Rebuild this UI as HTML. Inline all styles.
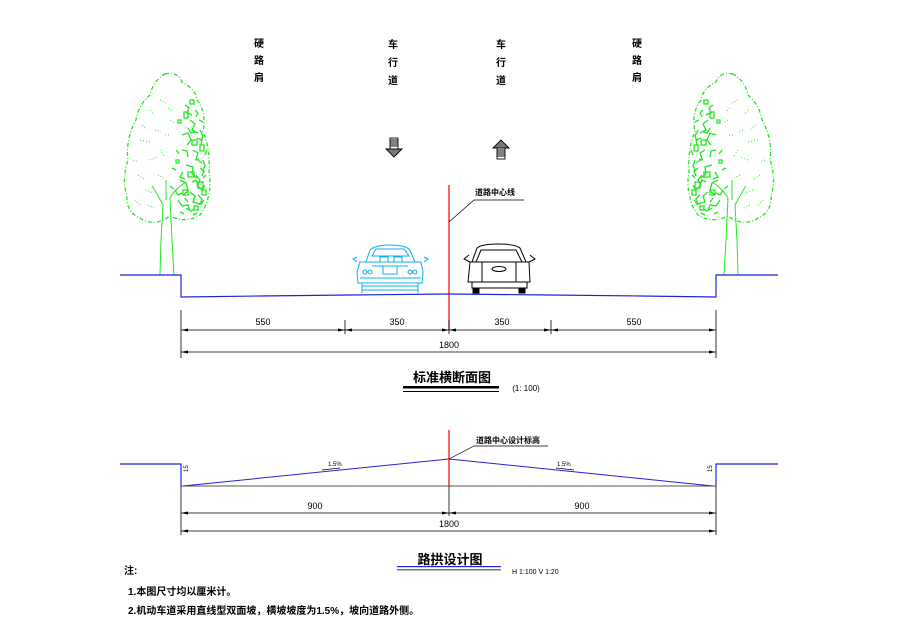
<!DOCTYPE html>
<html><head><meta charset="utf-8"><style>
html,body{margin:0;padding:0;background:#fff;}
svg{display:block;}
text{font-family:"Liberation Sans","Noto Sans CJK SC",sans-serif;}
.cj{font-family:"Liberation Sans","Noto Sans CJK SC",sans-serif;font-weight:bold;}
</style></head><body>
<svg width="900" height="626" viewBox="0 0 900 626" xmlns="http://www.w3.org/2000/svg">
<defs>
<g id="tree" fill="none" stroke="#22e622" stroke-width="1">
  <path d="M165,74 C175,72 180,76 182,82 C190,86 196,92 197,100 C205,110 205,122 203,132 C208,142 210,158 209,172 C212,188 208,205 200,215 C190,222 178,220 170,216 C160,224 148,224 140,218 C130,214 126,205 127,195 C123,185 124,172 128,160 C126,145 130,130 136,120 C138,108 144,100 150,95 C152,85 158,78 165,74 Z" stroke-dasharray="4 2 1 2" stroke-width="1.3"/>
  <path d="M163,205 L161,240 L160,275 M170,198 L172,240 L174,275 M163,205 C158,196 155,190 152,186 M170,198 C175,190 180,186 186,182 M166,200 L166,180" />
  <g stroke-width="1.3">
    <path d="M185,105 l4,3 l-2,5 l5,2 M190,120 l5,4 l-3,6 l6,3 M182,135 l6,-2 l3,7 l-4,5 M193,150 l5,3 l-2,6 l6,4 M186,165 l7,2 l-1,7 l5,4 M196,175 l4,5 l-3,5 l5,5 M180,180 l6,3 l2,8 l-5,4 M190,192 l5,4 l-2,6 l6,2 M178,200 l4,6 l6,-1 l2,6 M198,195 l4,4 l-2,6 M186,208 l5,3 l4,-2 M170,186 l4,3 M200,130 l3,6 l-2,5 M203,160 l2,6 l-3,5 M205,185 l-3,6 M176,150 l3,4 M172,168 l4,2"/>
    <path d="M195,110 l3,3 l-2,4 M199,120 l4,2 M188,128 l3,5 l4,-1 M197,138 l5,2 l-1,5 M182,150 l5,1 l1,6 M200,168 l4,3 l-2,5 M183,172 l-3,5 l5,2 M192,182 l4,-2 l2,5 M204,200 l-3,4 l-4,-1 M175,190 l3,5 l4,-2 M185,198 l3,4 M193,215 l4,-2 M180,212 l4,2 M195,160 l4,-1 M207,150 l-2,5 M206,175 l-3,3"/>
    <rect x="184" y="112" width="4" height="6"/><rect x="192" y="140" width="5" height="5"/><rect x="188" y="172" width="6" height="5"/><rect x="198" y="182" width="5" height="6"/><rect x="183" y="190" width="5" height="5"/><rect x="194" y="206" width="4" height="4"/><rect x="200" y="145" width="4" height="6"/><rect x="176" y="160" width="3" height="3"/><rect x="190" y="100" width="4" height="4"/><rect x="202" y="190" width="4" height="5"/><rect x="178" y="120" width="3" height="3"/>
  </g>
  <g stroke-width="1" stroke-dasharray="1 2">
    <path d="M140,140 l10,2 M150,160 l8,-3 M138,175 l6,4 M155,130 l6,2 M145,190 l8,3 M160,150 l4,6 M170,120 l5,3 M150,110 l4,5 M135,200 l6,6 M160,100 l6,3 M142,125 l5,4 M165,135 l6,0 M133,160 l5,2 M158,175 l6,3 M148,205 l6,3 M168,108 l4,4"/>
  </g>
</g>
</defs>

<use href="#tree"/>
<use href="#tree" transform="translate(898,0) scale(-1,1)"/>

<g class="cj" font-size="10" fill="#000" text-anchor="middle">
<text x="259" y="47">硬</text><text x="259" y="64">路</text><text x="259" y="81">肩</text>
<text x="393" y="48">车</text><text x="393" y="66">行</text><text x="393" y="84">道</text>
<text x="501" y="48">车</text><text x="501" y="66">行</text><text x="501" y="84">道</text>
<text x="637" y="47">硬</text><text x="637" y="64">路</text><text x="637" y="81">肩</text>
</g>

<g stroke="#000" stroke-width="0.9" fill="#fff">
  <rect x="390" y="138" width="8" height="11"/>
  <path d="M386,149 L402,149 L394,157 Z" fill="#777"/>
  <path d="M390,140h8M390,142h8M390,144h8M390,146h8" />
  <path d="M493,148 L509,148 L501,140 Z" fill="#777"/>
  <rect x="497" y="148" width="8" height="11"/>
  <path d="M497,150h8M497,152h8M497,154h8M497,156h8"/>
</g>

<line x1="449" y1="185" x2="449" y2="330" stroke="#e00" stroke-width="1.2"/>
<text class="cj" x="475" y="195" font-size="8">道路中心线</text>
<path d="M449,222 L474,200 L524,200" fill="none" stroke="#000" stroke-width="0.7"/>

<path d="M120,275 L181,275 L181,297 L260,296 L350,295 L449,294 L550,295 L640,296 L716,297 L716,275 L778,275" fill="none" stroke="#2222dd" stroke-width="1.2"/>

<g fill="none" stroke="#0bb0ee" stroke-width="1">
  <path d="M366,262 L370,250 Q375,245 390,245 Q405,245 410,250 L415,262"/>
  <path d="M372,256 L376,249 L404,249 L409,256 Z"/>
  <path d="M360,262 L421,262 L423,272 L422,283 L358,283 L357,272 Z"/>
  <circle cx="365" cy="272" r="2"/><circle cx="370" cy="272" r="2"/><circle cx="410" cy="272" r="2"/><circle cx="415" cy="272" r="2"/>
  <rect x="383" y="266" width="14" height="8"/>
  <path d="M360,278h61M362,283 L362,293 M418,283 L418,293 M362,286h56M362,290h56M372,266h36"/>
  <path d="M357,262 l-4,-3 l4,-2 M424,262 l4,-3 l-4,-2"/>
  <rect x="380" y="257" width="8" height="5"/><rect x="394" y="257" width="8" height="5"/>
</g>

<g fill="none" stroke="#000" stroke-width="1">
  <path d="M472,262 L477,248 Q482,244 498,244 Q515,244 520,248 L526,262"/>
  <path d="M476,262 L481,250 L516,250 L522,262"/>
  <path d="M470,262 L529,262 L530,282 L468,282 Z"/>
  <path d="M470,262 l-6,-3 l5,-4 M529,262 l6,-3 l-5,-4"/>
  <ellipse cx="499" cy="269" rx="7" ry="2.5"/>
  <rect x="472" y="282" width="55" height="6"/>
  <rect x="473" y="288" width="6" height="5" fill="#000"/><rect x="519" y="288" width="6" height="5" fill="#000"/>
  <path d="M482,262 L482,282 M516,262 L516,282"/>
</g>

<g stroke="#000" stroke-width="0.8" fill="none">
  <path d="M181,310 L181,358 M716,310 L716,358 M345,320 L345,334 M449,320 L449,334 M551,320 L551,334"/>
  <path d="M181,330 L716,330 M181,352 L716,352"/>
</g>
<g fill="#000">
  <path d="M181,330 l7,-1.5 v3z M345,330 l-7,-1.5 v3z M345,330 l7,-1.5 v3z M449,330 l-7,-1.5 v3z M449,330 l7,-1.5 v3z M551,330 l-7,-1.5 v3z M551,330 l7,-1.5 v3z M716,330 l-7,-1.5 v3z M181,352 l7,-1.5 v3z M716,352 l-7,-1.5 v3z"/>
</g>
<g font-size="9" fill="#000" text-anchor="middle">
  <text x="263" y="325">550</text><text x="397" y="325">350</text><text x="502" y="325">350</text><text x="634" y="325">550</text>
  <text x="449" y="348">1800</text>
</g>

<text class="cj" x="452" y="382" font-size="13" text-anchor="middle">标准横断面图</text>
<rect x="403" y="386" width="96" height="2.5" fill="#000"/>
<rect x="403" y="391" width="96" height="1" fill="#000"/>
<text x="526" y="391" font-size="8" text-anchor="middle">(1: 100)</text>

<path d="M120,464 L181,464 L181,486" fill="none" stroke="#2222dd" stroke-width="1.2"/>
<path d="M716,486 L716,464 L778,464" fill="none" stroke="#2222dd" stroke-width="1.2"/>
<line x1="181" y1="486" x2="716" y2="486" stroke="#555" stroke-width="1"/>
<path d="M183,486 L449,459 L713,486" fill="none" stroke="#2222dd" stroke-width="1"/>
<line x1="449" y1="430" x2="449" y2="486" stroke="#e00" stroke-width="1.2"/>
<line x1="449" y1="486" x2="449" y2="516" stroke="#000" stroke-width="0.8"/>
<text class="cj" x="476" y="443" font-size="8">道路中心设计标高</text>
<path d="M449,459 L474,446 L548,446" fill="none" stroke="#000" stroke-width="0.7"/>
<text x="328" y="466" font-size="6">1.5%</text>
<path d="M322,470 l18,-2" stroke="#000" stroke-width="0.7"/>
<text x="557" y="466" font-size="6">1.5%</text>
<path d="M556,468 l18,2" stroke="#000" stroke-width="0.7"/>
<text x="188" y="472" font-size="6" transform="rotate(-90 188 472)">15</text>
<text x="712" y="472" font-size="6" transform="rotate(-90 712 472)">15</text>
<g stroke="#000" stroke-width="0.8" fill="none">
  <path d="M181,486 L181,535 M716,486 L716,535"/>
  <path d="M181,513 L716,513 M181,531 L716,531"/>
</g>
<g fill="#000">
  <path d="M181,513 l7,-1.5 v3z M449,513 l-7,-1.5 v3z M449,513 l7,-1.5 v3z M716,513 l-7,-1.5 v3z M181,531 l7,-1.5 v3z M716,531 l-7,-1.5 v3z"/>
</g>
<g font-size="9" fill="#000" text-anchor="middle">
  <text x="315" y="509">900</text><text x="582" y="509">900</text><text x="449" y="527">1800</text>
</g>

<text class="cj" x="450" y="564" font-size="13" text-anchor="middle">路拱设计图</text>
<rect x="397" y="566" width="104" height="1.2" fill="#2222dd"/>
<rect x="397" y="569" width="104" height="1.5" fill="#777"/>
<text x="512" y="574" font-size="7">H 1:100 V 1:20</text>

<g class="cj" font-size="10" fill="#000">
  <text x="124" y="574">注:</text>
  <text x="128" y="595">1.本图尺寸均以厘米计。</text>
  <text x="128" y="614">2.机动车道采用直线型双面坡，横坡坡度为1.5%，坡向道路外侧。</text>
</g>
</svg>
</body></html>
